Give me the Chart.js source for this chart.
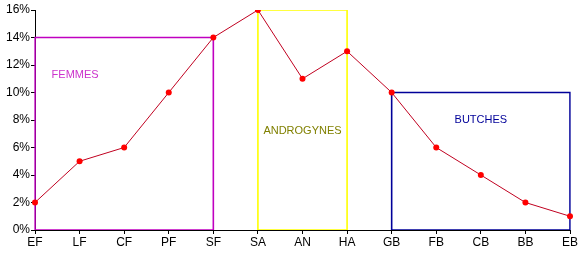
<!DOCTYPE html>
<html><head><meta charset="utf-8">
<script src="https://cdn.jsdelivr.net/npm/chart.js@4"></script>
<style>html,body{margin:0;padding:0;background:#fff}#wrap{width:588px;height:254px}</style>
</head><body><div id="wrap"><canvas id="c" width="588" height="254"></canvas></div>
<script>
const categories = ['EF','LF','CF','PF','SF','SA','AN','HA','GB','FB','CB','BB','EB'];
const values = [2,5,6,10,14,16,11,13,10,6,4,2,1];
const yTicks = [0,2,4,6,8,10,12,14,16];
const groupNames = ['FEMMES','ANDROGYNES','BUTCHES'];
const groupStart = ['EF','SA','GB'];
const groupEnd = ['SF','HA','EB'];
const groupHeight = [14,16,10];
const groupColors = ['#c000c0','#ffff00','#000099'];
const groupTextColors = ['#cc33cc','#808000','#000099'];
// label anchors (category index, value)
const labelAnchors = [[0.9,11.3],[6.0,7.2],[10.0,8.0]];

const rectDatasets = groupNames.map((n,i)=>({
  label:n, type:'line', order:2+i,
  data:[{x:groupStart[i],y:0},{x:groupStart[i],y:groupHeight[i]},{x:groupEnd[i],y:groupHeight[i]},{x:groupEnd[i],y:0},{x:groupStart[i],y:0}],
  borderColor:groupColors[i], borderWidth:1.6, pointRadius:0, fill:false, tension:0
}));

const labelPlugin = {
  id:'grpLabels',
  afterDatasetsDraw(chart){
    const ctx=chart.ctx, xs=chart.scales.x, ys=chart.scales.y;
    ctx.save();
    ctx.font='11px "Liberation Sans", Arial, sans-serif';
    ctx.textAlign='center'; ctx.textBaseline='middle';
    groupNames.forEach((n,i)=>{
      const a=labelAnchors[i];
      const x0=xs.getPixelForValue(Math.floor(a[0])), x1=xs.getPixelForValue(Math.ceil(a[0]));
      const x=x0+(x1-x0)*(a[0]-Math.floor(a[0]));
      ctx.fillStyle=groupTextColors[i];
      ctx.fillText(n,x,ys.getPixelForValue(a[1]));
    });
    ctx.restore();
  }
};

new Chart(document.getElementById('c'),{
  type:'line',
  data:{labels:categories,datasets:[
    {label:'%',data:values,order:0,borderColor:'#c00020',borderWidth:1,pointRadius:3,pointBackgroundColor:'#ff0000',pointBorderColor:'#ff0000',pointBorderWidth:0,tension:0,fill:false},
    ...rectDatasets
  ]},
  options:{
    responsive:false,animation:false,
    layout:{padding:{top:10,right:18,left:0,bottom:0}},
    plugins:{legend:{display:false},tooltip:{enabled:false}},
    scales:{
      x:{type:'category',offset:false,
        grid:{display:true,drawOnChartArea:false,drawTicks:true,tickLength:4,color:'#000',tickColor:'#000'},
        border:{display:true,color:'#000',width:1},
        ticks:{color:'#000',font:{family:'"Liberation Sans", Arial, sans-serif',size:12},padding:1,maxRotation:0,autoSkip:false},
        afterFit(s){s.height=24;}
      },
      y:{min:0,max:16,
        afterBuildTicks(s){s.ticks=yTicks.map(v=>({value:v}));},
        grid:{display:true,drawOnChartArea:false,drawTicks:true,tickLength:4,color:'#000',tickColor:'#000'},
        border:{display:true,color:'#000',width:1},
        ticks:{color:'#000',font:{family:'"Liberation Sans", Arial, sans-serif',size:12},padding:1,callback:v=>v+'%'},
        afterFit(s){s.width=35;}
      }
    }
  },
  plugins:[labelPlugin]
});
</script></body></html>
